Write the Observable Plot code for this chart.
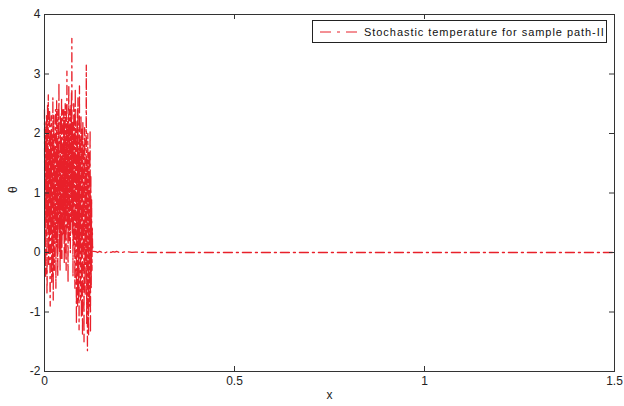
<!DOCTYPE html>
<html>
<head>
<meta charset="utf-8">
<script src="https://cdn.jsdelivr.net/npm/d3@7"></script>
<script src="https://cdn.jsdelivr.net/npm/@observablehq/plot@0.6"></script>
<style>
  body { margin: 0; background: #fff; }
  #wrap { position: relative; width: 624px; height: 406px; font-family: "Liberation Sans", Arial, sans-serif; }
  .legend {
    position: absolute; left: 312px; top: 20px; width: 295px; height: 23px;
    border: 1px solid #222; background: #fff; box-sizing: border-box;
    display: flex; align-items: center; font-size: 11px; letter-spacing: 0.95px; color: #111;
    white-space: nowrap;
  }
  .legend svg { margin: 0 4px 0 7px; }
</style>
</head>
<body>
<div id="wrap"></div>
<script>
// Sample path of the stochastic temperature θ(x)
const step = 0.0005; // grid spacing of the noisy section
const noisyTheta = [
  2.4, 0.8, 0.3, 2.1, 1.8, -0.2, -0.4, 1.6, 2.2, 0.5, 0.9, 2.3, 1.5, -0.7, -0.5, 1.9, 2.5, 0.4, 0.6, 2.0,
  2.65, 1.1, -0.2, 1.7, 1.3, 0.0, 0.4, 2.4, 2.1, -0.6, -0.9, 1.2, 1.9, 0.3, 0.8, 2.2, 2.3, 0.1, -0.5, 1.5,
  1.6, 2.0, 0.2, -0.4, 2.6, 1.4, -0.8, 0.7, 1.2, 2.3, 2.0, -0.1, -0.3, 1.8, 1.7, 0.2, 0.5, 2.1, 2.4, 0.9,
  -0.6, 1.0, 1.4, 2.0, 2.55, 0.3, 0.1, 1.6, 1.9, -0.2, -0.4, 2.4, 2.2, 0.5, 0.7, 1.8, 2.85, 0.9, 0.0, 1.3,
  1.6, 0.2, -0.3, 2.0, 2.3, 1.2, 0.9, -0.1, 1.1, 2.2, 2.6, 0.8, -0.1, 1.5, 1.8, 0.3, 0.4, 2.4, 2.0, 0.7,
  0.3, 1.6, 2.4, 0.5, -0.2, 2.1, 1.5, 0.0, 2.1, 2.5, 0.6, 1.2, 1.9, -0.1, -0.3, 2.2, 2.5, 0.8, 3.05, 1.4,
  0.4, 1.9, 2.2, 0.1, -0.5, 1.3, 1.7, 2.4, 2.8, 0.6, 0.2, 2.1, 1.3, 0.3, 2.4, 1.7, 0.0, 0.9, 2.0, 2.5,
  1.0, 2.2, 2.7, 0.5, 3.6, 1.5, 0.3, 2.0, 2.2, 0.4, -0.4, 1.8, 1.6, 0.1, 2.5, 1.2, 0.8, 2.4, 1.9, 0.0,
  -0.6, 1.5, 2.75, 0.3, 0.5, 2.2, 1.4, -0.3, -1.2, 1.0, 2.1, 0.2, 0.9, 2.4, -0.9, 0.4, 2.6, 1.1, 0.2, -0.8,
  1.7, 0.6, -1.3, 1.4, 2.8, 0.0, 0.4, 1.9, 1.2, -0.6, -0.8, 1.6, 2.3, 0.5, -1.1, 0.8, 1.5, 2.1, 0.6, -0.4,
  -1.4, 0.9, 2.2, 0.6, 0.1, 1.7, 1.8, -0.5, -1.5, 0.8, 1.0, 2.1, 2.0, 0.2, -0.7, 1.3, 1.4, -0.2, 0.3, 1.9,
  3.15, 0.7, -1.2, 1.1, 1.6, -0.4, -1.65, 0.9, 2.0, 1.2, 0.5, -1.0, -1.4, 0.6, 1.7, 1.3, 0.2, -0.6, -0.9, 1.5,
  2.05, 0.3, -1.35, 0.8, 1.3, 0.2, -0.6, 0.5, 0.9, 0.1, -0.3, 0.35, 0.4, 0.05, 0.1, 0.02, 0.02
];
// decayed tail: small residual fluctuations, then flat
const tailX = [0.135, 0.14, 0.145, 0.15, 0.155, 0.16, 0.165, 0.17, 0.175, 0.18, 0.185, 0.19, 0.195, 0.2, 0.205, 0.21, 0.215, 0.22, 0.23, 0.24, 0.25, 0.26, 0.27, 1.5];
const tailTheta = [0.015, 0.0, 0.02, 0.005, 0.018, -0.005, 0.012, 0.02, 0.0, 0.015, 0.008, 0.02, 0.004, 0.012, 0.0, 0.01, 0.006, 0.012, 0.003, 0.008, 0.002, 0.004, 0.0, 0.0];

const xTicks = [0, 0.5, 1, 1.5];
const yTicks = [-2, -1, 0, 1, 2, 3, 4];
const seriesLabel = "Stochastic temperature for sample path-II";
const red = "#e8202a";
const axisColor = "#333";

const series = [
  ...noisyTheta.map((v, i) => ({x: i * step, theta: v})),
  ...tailX.map((x, i) => ({x, theta: tailTheta[i]}))
];

const W = 624, H = 406, mL = 44, mR = 10, mT = 14, mB = 35;
const innerW = W - mL - mR, innerH = H - mT - mB;
const tick = 5;

const chart = Plot.plot({
  width: W, height: H,
  marginLeft: mL, marginRight: mR, marginTop: mT, marginBottom: mB,
  style: {fontFamily: '"Liberation Sans", Arial, sans-serif', fontSize: "12px", color: "#222", background: "#fff"},
  x: {domain: [0, 1.5], label: null},
  y: {domain: [-2, 4], label: null},
  marks: [
    Plot.line(series, {x: "x", y: "theta", stroke: red, strokeWidth: 1.3, strokeDasharray: "9,4,2,4"}),
    Plot.frame({stroke: axisColor, strokeWidth: 1}),
    // inward ticks on all four sides
    Plot.ruleX(xTicks, {insetTop: innerH - tick, stroke: axisColor}),
    Plot.ruleX(xTicks, {insetBottom: innerH - tick, stroke: axisColor}),
    Plot.ruleY(yTicks, {insetRight: innerW - tick, stroke: axisColor}),
    Plot.ruleY(yTicks, {insetLeft: innerW - tick, stroke: axisColor}),
    Plot.axisX(xTicks, {tickSize: 0, tickPadding: 5, tickFormat: d => String(d), label: null}),
    Plot.axisY(yTicks, {tickSize: 0, tickPadding: 4, tickFormat: d => String(d), label: null}),
    Plot.text(["x"], {frameAnchor: "bottom", dy: 27, fontSize: 12}),
    Plot.text(["θ"], {frameAnchor: "left", dx: -31, rotate: -90, fontSize: 12})
  ]
});

const wrap = document.getElementById("wrap");
wrap.appendChild(chart);

const legend = document.createElement("div");
legend.className = "legend";
legend.innerHTML =
  `<svg width="40" height="8"><line x1="0" y1="4" x2="40" y2="4" stroke="${red}" stroke-width="1" stroke-dasharray="11,6,3,6"/></svg><span></span>`;
legend.querySelector("span").textContent = seriesLabel;
wrap.appendChild(legend);
</script>
</body>
</html>
